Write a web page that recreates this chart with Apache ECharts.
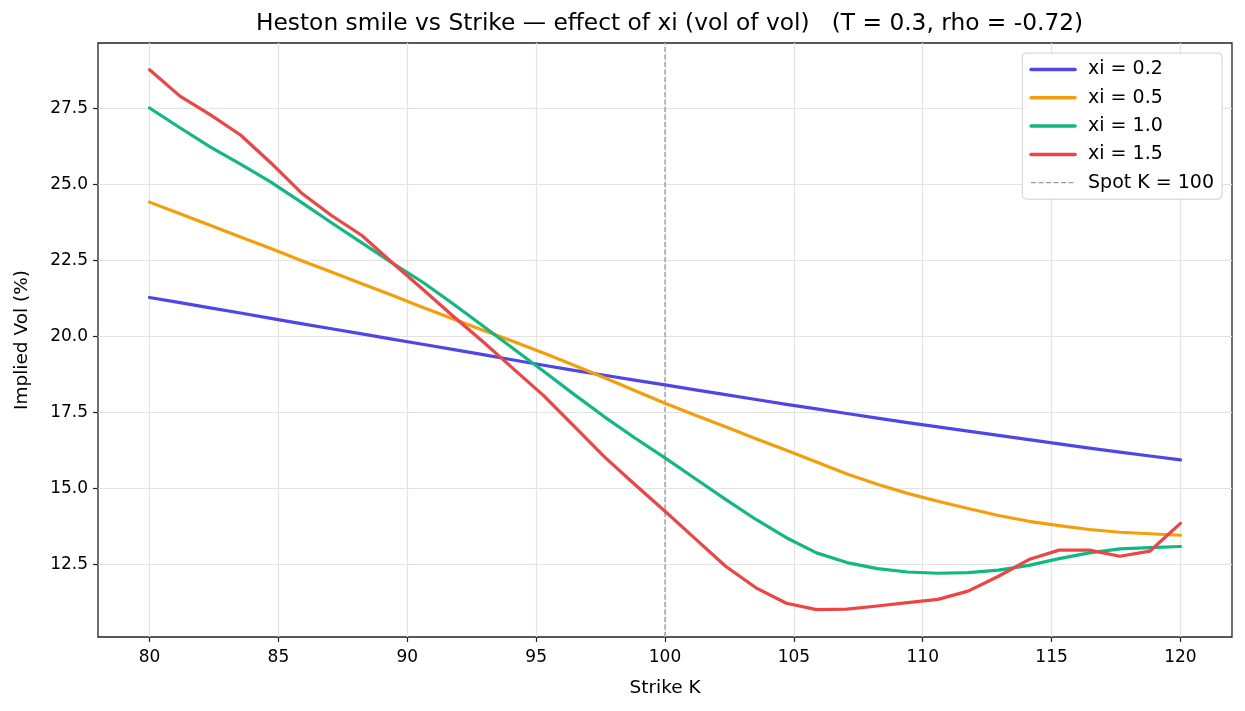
<!DOCTYPE html>
<html>
<head>
<meta charset="utf-8">
<script src="https://cdn.jsdelivr.net/npm/echarts@6/dist/echarts.min.js"></script>
<style>
html,body{margin:0;padding:0;background:#fff;}
#chart{width:1245px;height:711px;}
</style>
</head>
<body>
<div id="chart"></div>
<script>
const strikes = [80.00, 81.18, 82.35, 83.53, 84.71, 85.88, 87.06, 88.24, 89.41, 90.59,
  91.76, 92.94, 94.12, 95.29, 96.47, 97.65, 98.82, 100.00, 101.18, 102.35,
  103.53, 104.71, 105.88, 107.06, 108.24, 109.41, 110.59, 111.76, 112.94, 114.12,
  115.29, 116.47, 117.65, 118.82, 120.00];

const xi02 = [21.28, 21.11, 20.94, 20.77, 20.59, 20.42, 20.25, 20.08, 19.91, 19.74,
  19.57, 19.40, 19.22, 19.05, 18.88, 18.72, 18.56, 18.40, 18.24, 18.08,
  17.92, 17.76, 17.61, 17.46, 17.31, 17.16, 17.02, 16.88, 16.74, 16.60,
  16.46, 16.32, 16.19, 16.06, 15.93];

const xi05 = [24.42, 24.04, 23.66, 23.27, 22.89, 22.50, 22.12, 21.73, 21.35, 20.96,
  20.58, 20.20, 19.83, 19.45, 19.05, 18.64, 18.22, 17.80, 17.40, 17.02,
  16.63, 16.25, 15.86, 15.47, 15.13, 14.83, 14.57, 14.33, 14.10, 13.91,
  13.77, 13.64, 13.55, 13.50, 13.45];

const xi10 = [27.52, 26.87, 26.24, 25.67, 25.08, 24.42, 23.74, 23.08, 22.42, 21.79,
  21.08, 20.34, 19.59, 18.85, 18.09, 17.35, 16.66, 16.00, 15.31, 14.63,
  13.97, 13.37, 12.87, 12.55, 12.35, 12.24, 12.20, 12.22, 12.30, 12.46,
  12.68, 12.87, 13.00, 13.04, 13.08];

const xi15 = [28.78, 27.91, 27.30, 26.63, 25.71, 24.73, 23.98, 23.32, 22.43, 21.56,
  20.68, 19.82, 18.93, 18.05, 17.04, 16.03, 15.13, 14.24, 13.33, 12.43,
  11.72, 11.21, 11.00, 11.02, 11.12, 11.23, 11.34, 11.61, 12.10, 12.65,
  12.96, 12.96, 12.76, 12.93, 13.84];

const spotK = 100;
const xTicks = [80, 85, 90, 95, 100, 105, 110, 115, 120];
const yTicks = [12.5, 15.0, 17.5, 20.0, 22.5, 25.0, 27.5];
const xRange = [78, 122];
const yRange = [10.1, 29.66];

const seriesDefs = [
  {name: 'xi = 0.2', values: xi02, color: '#4f46e5'},
  {name: 'xi = 0.5', values: xi05, color: '#f59e0b'},
  {name: 'xi = 1.0', values: xi10, color: '#10b981'},
  {name: 'xi = 1.5', values: xi15, color: '#ef4444'}
];
const spotName = 'Spot K = 100';

const FONT = 'DejaVu Sans';
const chart = echarts.init(document.getElementById('chart'), null, {renderer: 'canvas'});

const series = seriesDefs.map(s => ({
  name: s.name,
  type: 'line',
  data: strikes.map((k, i) => [k, s.values[i]]),
  symbol: 'none',
  showSymbol: false,
  lineStyle: {color: s.color, width: 3.2, cap: 'round', join: 'round'},
  itemStyle: {color: s.color},
  z: 3,
  animation: false
}));

series.push({
  name: spotName,
  type: 'line',
  data: [[spotK, yRange[0]], [spotK, yRange[1]]],
  symbol: 'none',
  showSymbol: false,
  lineStyle: {color: '#9a9a9a', width: 1.3, type: [5, 2.5]},
  itemStyle: {color: '#9a9a9a'},
  z: 2,
  animation: false
});

const legendData = seriesDefs.map(s => ({name: s.name, lineStyle: {width: 3.5}}))
  .concat([{name: spotName, lineStyle: {width: 1.3}}]);

chart.setOption({
  animation: false,
  backgroundColor: '#ffffff',
  title: {
    text: 'Heston smile vs Strike \u2014 effect of xi (vol of vol)   (T = 0.3, rho = -0.72)',
    left: 251,
    top: 7,
    textStyle: {fontFamily: FONT, fontSize: 23.3, fontWeight: 'normal', color: '#000'}
  },
  grid: {
    left: 98, right: 13, top: 43, bottom: 74,
    show: true, borderColor: '#222222', borderWidth: 1.3, backgroundColor: 'transparent'
  },
  legend: {
    orient: 'vertical',
    right: 23,
    top: 53,
    padding: [7, 8, 7, 7],
    itemWidth: 44,
    itemHeight: 14,
    itemGap: 9.3,
    backgroundColor: '#ffffff',
    borderColor: '#d0d0d0',
    borderWidth: 1,
    borderRadius: 4,
    itemStyle: {opacity: 0},
    textStyle: {fontFamily: FONT, fontSize: 19, color: '#000', lineHeight: 19, padding: [0, 0, 0, 8]},
    data: legendData
  },
  xAxis: {
    type: 'value',
    min: xRange[0], max: xRange[1],
    name: 'Strike K',
    nameLocation: 'middle',
    nameGap: 42,
    nameTextStyle: {fontFamily: FONT, fontSize: 18.5, color: '#000'},
    axisLine: {show: false},
    axisTick: {show: true, length: 5, lineStyle: {color: '#222', width: 1.2}, customValues: xTicks},
    axisLabel: {fontFamily: FONT, fontSize: 17, color: '#000', margin: 12, customValues: xTicks,
      formatter: v => String(v)},
    splitLine: {show: true, lineStyle: {color: '#e3e3e3', width: 1.2}}
  },
  yAxis: {
    type: 'value',
    min: yRange[0], max: yRange[1],
    name: 'Implied Vol (%)',
    nameLocation: 'middle',
    nameGap: 66,
    nameTextStyle: {fontFamily: FONT, fontSize: 18.5, color: '#000'},
    axisLine: {show: false},
    axisTick: {show: true, length: 5, lineStyle: {color: '#222', width: 1.2}, customValues: yTicks},
    axisLabel: {fontFamily: FONT, fontSize: 17, color: '#000', margin: 10, customValues: yTicks,
      formatter: v => Number(v).toFixed(1)},
    splitLine: {show: true, lineStyle: {color: '#e3e3e3', width: 1.2}}
  },
  series: series
});
</script>
</body>
</html>
